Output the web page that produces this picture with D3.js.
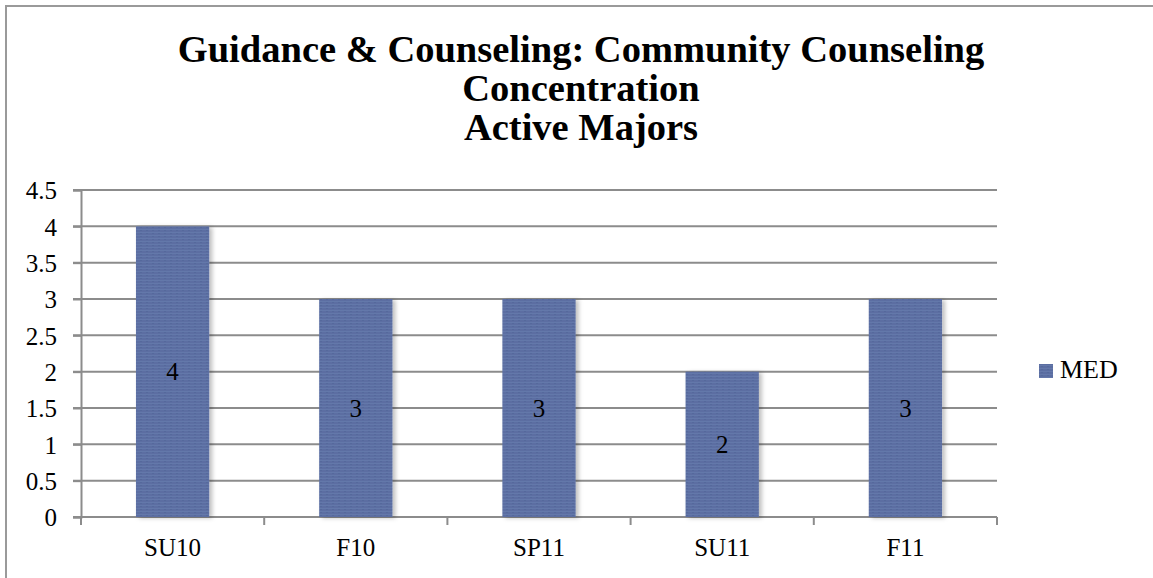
<!DOCTYPE html>
<html>
<head>
<meta charset="utf-8">
<script src="https://cdn.jsdelivr.net/npm/d3@7"></script>
<style>
  body { margin: 0; background: #fff; }
</style>
</head>
<body>
<script>
// chart data
const categories = ["SU10", "F10", "SP11", "SU11", "F11"];
const values = [4, 3, 3, 2, 3];
const yTicks = [0, 0.5, 1, 1.5, 2, 2.5, 3, 3.5, 4, 4.5];
const titleLines = [
  "Guidance & Counseling: Community Counseling",
  "Concentration",
  "Active Majors",
];
const seriesName = "MED";

const serif = '"Liberation Serif", "Times New Roman", serif';

// canvas size
const width = 1153;
const height = 578;
const plot = { left: 81, right: 997, top: 190, bottom: 517 };

const svg = d3
  .select("body")
  .append("svg")
  .attr("width", width)
  .attr("height", height)
  .style("display", "block");

// bar texture + shadow
const defs = svg.append("defs");
const pat = defs
  .append("pattern")
  .attr("id", "tex")
  .attr("patternUnits", "userSpaceOnUse")
  .attr("width", 6)
  .attr("height", 3);
pat.append("rect").attr("width", 6).attr("height", 3).attr("fill", "#5b6ea2");
pat.append("rect").attr("y", 1).attr("width", 6).attr("height", 1).attr("fill", "#6478aa");
pat.append("rect").attr("x", 2).attr("y", 2).attr("width", 2).attr("height", 1).attr("fill", "#55699c");

const shadow = defs.append("filter").attr("id", "shadow")
  .attr("x", "-10%").attr("y", "-5%").attr("width", "130%").attr("height", "110%");
shadow.append("feDropShadow")
  .attr("dx", 3).attr("dy", 1).attr("stdDeviation", 2)
  .attr("flood-color", "#000").attr("flood-opacity", 0.25);

// outer border
svg
  .append("path")
  .attr("d", `M6,${height} V6 H${width}`)
  .attr("fill", "none")
  .attr("stroke", "#9a9a9a")
  .attr("stroke-width", 2);

// title
svg
  .append("text")
  .attr("text-anchor", "middle")
  .style("font-family", serif)
  .style("font-weight", "bold")
  .style("font-size", "38.5px")
  .selectAll("tspan")
  .data(titleLines)
  .enter()
  .append("tspan")
  .attr("x", 581)
  .attr("y", (d, i) => 62 + i * 39)
  .text((d) => d);

// scales
const xScale = d3
  .scaleBand()
  .domain(categories)
  .range([plot.left, plot.right])
  .paddingInner(0.6)
  .paddingOuter(0.3);
const xEdges = d3
  .scaleLinear()
  .domain([0, categories.length])
  .range([plot.left, plot.right]);
const yScale = d3.scaleLinear().domain([0, 4.5]).range([plot.bottom, plot.top]);

const gridColor = "#8c8c8c";

// gridlines
svg
  .append("g")
  .selectAll("line")
  .data(yTicks)
  .enter()
  .append("line")
  .attr("x1", plot.left - 8)
  .attr("x2", plot.right)
  .attr("y1", (d) => yScale(d))
  .attr("y2", (d) => yScale(d))
  .attr("stroke", gridColor)
  .attr("stroke-width", 2);

// y axis
const yAxis = d3
  .axisLeft(yScale)
  .tickValues(yTicks)
  .tickFormat(d3.format("~g"))
  .tickSize(8)
  .tickPadding(16);
const gy = svg
  .append("g")
  .attr("transform", `translate(${plot.left},0)`)
  .call(yAxis);
gy.selectAll("path, line").attr("stroke", gridColor).attr("stroke-width", 2);
gy.selectAll("text")
  .style("font-family", serif)
  .style("font-size", "25px")
  .attr("fill", "#000")
  .attr("dy", "0.35em");

// x axis ticks at band edges
svg
  .append("g")
  .selectAll("line")
  .data(d3.range(categories.length + 1))
  .enter()
  .append("line")
  .attr("x1", (d) => xEdges(d))
  .attr("x2", (d) => xEdges(d))
  .attr("y1", plot.bottom)
  .attr("y2", plot.bottom + 8)
  .attr("stroke", gridColor)
  .attr("stroke-width", 2);

// x labels
const xAxis = d3.axisBottom(xScale).tickSize(0).tickPadding(21);
const gx = svg
  .append("g")
  .attr("transform", `translate(0,${plot.bottom})`)
  .call(xAxis);
gx.select(".domain").remove();
gx.selectAll("text")
  .style("font-family", serif)
  .style("font-size", "25px")
  .attr("fill", "#000");

// bars
svg
  .append("g")
  .selectAll("rect")
  .data(values)
  .enter()
  .append("rect")
  .attr("x", (d, i) => xScale(categories[i]))
  .attr("y", (d) => yScale(d))
  .attr("width", xScale.bandwidth())
  .attr("height", (d) => yScale(0) - yScale(d))
  .attr("fill", "url(#tex)")
  .attr("filter", "url(#shadow)");

// data labels
svg
  .append("g")
  .selectAll("text")
  .data(values)
  .enter()
  .append("text")
  .attr("x", (d, i) => xScale(categories[i]) + xScale.bandwidth() / 2)
  .attr("y", (d) => yScale(d / 2))
  .attr("dy", "0.35em")
  .attr("text-anchor", "middle")
  .style("font-family", serif)
  .style("font-size", "25px")
  .text((d) => d);

// legend
const legend = svg.append("g").attr("transform", "translate(1039,364)");
legend.append("rect").attr("width", 14).attr("height", 14).attr("fill", "url(#tex)");
legend
  .append("text")
  .attr("x", 21)
  .attr("y", 14)
  .style("font-family", serif)
  .style("font-size", "26px")
  .text(seriesName);
</script>
</body>
</html>
